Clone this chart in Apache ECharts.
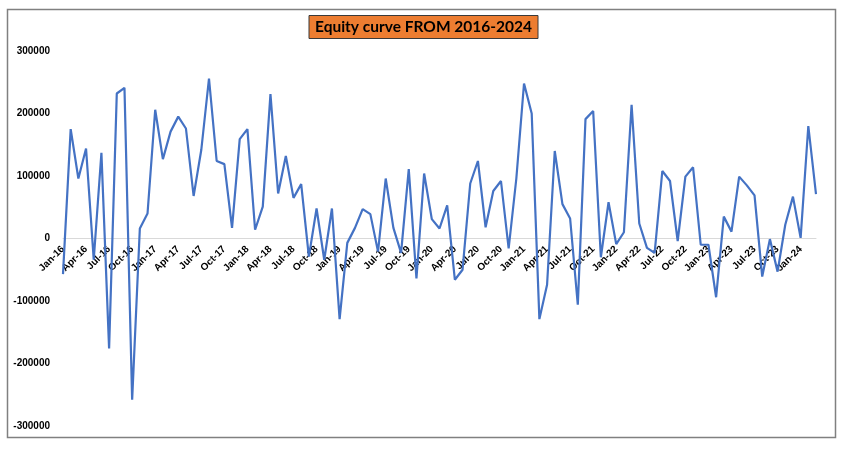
<!DOCTYPE html>
<html>
<head>
<meta charset="utf-8">
<script src="https://cdn.jsdelivr.net/npm/echarts@6/dist/echarts.min.js"></script>
<style>
  html, body { margin: 0; padding: 0; background: #ffffff; }
  #chart { width: 847px; height: 449px; }
</style>
</head>
<body>
<div id="chart"></div>
<script>
// ---- data ----
const monthNames = ['Jan','Feb','Mar','Apr','May','Jun','Jul','Aug','Sep','Oct','Nov','Dec'];
const years = ['16','17','18','19','20','21','22','23','24'];
const lastYearMonths = 3; // Jan-24 .. Mar-24

const categories = [];
years.forEach(function (y, yi) {
  const n = (yi === years.length - 1) ? lastYearMonths : 12;
  for (let m = 0; m < n; m++) categories.push(monthNames[m] + '-' + y);
});

const equity = [
  -57000, 175000, 96000, 144000, -34000, 137000, -176000, 232000, 241000, -258000, 16000, 40000,
  206000, 127000, 171000, 195000, 176000, 68000, 142000, 256000, 124000, 119000, 17000, 159000,
  175000, 14000, 51000, 231000, 72000, 132000, 65000, 87000, -29000, 48000, -34000, 48000,
  -129000, -7000, 17000, 47000, 39000, -21000, 96000, 17000, -23000, 111000, -64000, 104000,
  31000, 16000, 53000, -66000, -50000, 88000, 124000, 18000, 76000, 92000, -16000, 96000,
  248000, 200000, -129000, -74000, 140000, 55000, 32000, -106000, 191000, 204000, -30000, 58000,
  -9000, 10000, 214000, 24000, -15000, -23000, 108000, 92000, -4000, 99000, 114000, -10000,
  -10000, -94000, 35000, 11000, 99000, 85000, 69000, -61000, -1000, -53000, 22000, 67000,
  1000, 180000, 71000
];

const yMin = -300000, yMax = 300000, yStep = 100000;
const titleText = 'Equity curve FROM 2016-2024';

// ---- layout ----
const W = 847, H = 449;
const gridTop = 51, gridBottom = 23;
const plotH = H - gridTop - gridBottom;
// distance of the zero line above the grid bottom edge
const zeroOffset = plotH * (0 - yMin) / (yMax - yMin);

// ---- chart ----
const chart = echarts.init(document.getElementById('chart'), null, { renderer: 'canvas' });
chart.setOption({
  animation: false,
  backgroundColor: '#ffffff',
  title: {
    text: titleText,
    left: 'center',
    top: 15,
    padding: [3, 6, 3, 6],
    backgroundColor: '#ED7D31',
    borderColor: '#3a3a3a',
    borderWidth: 1,
    textStyle: {
      fontFamily: 'Lato',
      fontWeight: 'bold',
      fontSize: 15.5,
      lineHeight: 18,
      color: '#000000'
    }
  },
  graphic: [{
    type: 'rect',
    shape: { x: 7.5, y: 9.5, width: 828, height: 428 },
    style: { fill: 'none', stroke: '#808080', lineWidth: 1.5 },
    z: -1
  }],
  grid: { left: 63, right: 31, top: gridTop, bottom: gridBottom, containLabel: false },
  xAxis: {
    type: 'category',
    data: categories,
    boundaryGap: false,
    offset: -zeroOffset,
    z: 0,
    axisLine: { onZero: false, lineStyle: { color: '#d9d9d9', width: 1 } },
    axisTick: { show: false },
    axisLabel: {
      interval: 2,
      rotate: 45,
      margin: 9,
      color: '#000000',
      fontFamily: 'Liberation Sans',
      fontWeight: 'bold',
      fontSize: 10
    },
    splitLine: { show: false }
  },
  yAxis: {
    type: 'value',
    min: yMin,
    max: yMax,
    interval: yStep,
    axisLine: { show: false },
    axisTick: { show: false },
    splitLine: { show: false },
    axisLabel: {
      margin: 13,
      color: '#000000',
      fontFamily: 'Liberation Sans',
      fontWeight: 'bold',
      fontSize: 10,
      formatter: function (v) { return String(v); }
    }
  },
  series: [{
    type: 'line',
    data: equity,
    z: 5,
    showSymbol: false,
    symbol: 'none',
    lineStyle: { color: '#4472C4', width: 2.2 },
    emphasis: { disabled: true }
  }]
});
</script>
</body>
</html>
